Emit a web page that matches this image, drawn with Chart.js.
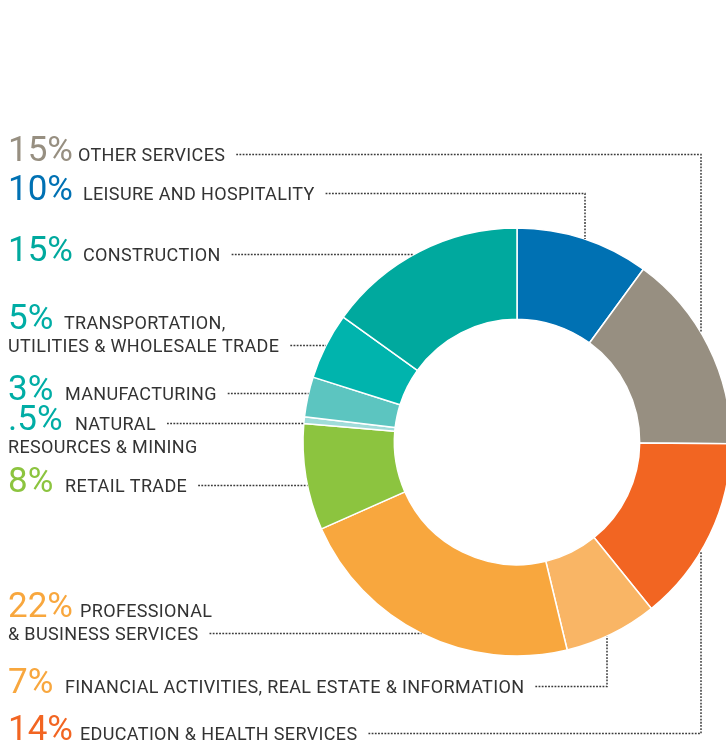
<!DOCTYPE html>
<html lang="en">
<head>
  <meta charset="utf-8" />
  <title>Employment by Sector</title>
  <style>
    html, body {
      margin: 0;
      padding: 0;
      background: #ffffff;
      overflow: hidden;
      width: 726px;
      height: 744px;
    }
    #wrap {
      position: absolute;
      left: 0;
      top: 0;
      width: 734px;
      height: 744px;
    }
  </style>
</head>
<body>
  <div id="wrap"><canvas id="sectors" width="734" height="744"></canvas></div>

  <script src="https://cdn.jsdelivr.net/npm/chart.js@4"></script>

  <script>
    // Sectors in clockwise order starting at 12 o'clock
    const sectors = [
      'LEISURE AND HOSPITALITY',
      'OTHER SERVICES',
      'EDUCATION & HEALTH SERVICES',
      'FINANCIAL ACTIVITIES, REAL ESTATE & INFORMATION',
      'PROFESSIONAL & BUSINESS SERVICES',
      'RETAIL TRADE',
      'NATURAL RESOURCES & MINING',
      'MANUFACTURING',
      'TRANSPORTATION, UTILITIES & WHOLESALE TRADE',
      'CONSTRUCTION'
    ];
    const shares = [10, 15, 14, 7, 22, 8, 0.5, 3, 5, 15];
    const sliceColors = [
      '#0071b3', '#978f81', '#f26522', '#f9b565', '#f8a73e',
      '#8cc43f', '#a0dcd9', '#5cc5c0', '#00b4ad', '#00a99e'
    ];
    const pctColors = [
      '#0071b3', '#978f81', '#f26522', '#f8a73e', '#f8a73e',
      '#8cc43f', '#00ada5', '#00ada5', '#00ada5', '#00a99e'
    ];

    // Label block layout: which sector, text lines, where it sits, how the leader runs
    // leader 'h'    -> straight across to the left edge of the ring
    // leader 'up'   -> across to elbowX, then down onto the top of the ring
    // leader 'down' -> across to elbowX, then up onto the bottom of the ring
    const labelLayout = [
      { i: 1, lines: ['OTHER SERVICES'], x: 78, y: 161, leader: 'up', elbowX: 701 },
      { i: 0, lines: ['LEISURE AND HOSPITALITY'], x: 83, y: 200, leader: 'up', elbowX: 585 },
      { i: 9, lines: ['CONSTRUCTION'], x: 83, y: 261, leader: 'h' },
      { i: 8, lines: ['TRANSPORTATION,', 'UTILITIES & WHOLESALE TRADE'], x: 64, y: 329, leader: 'h' },
      { i: 7, lines: ['MANUFACTURING'], x: 65, y: 400, leader: 'h' },
      { i: 6, lines: ['NATURAL', 'RESOURCES & MINING'], x: 75, y: 430, leader: 'h', leaderLine: 0 },
      { i: 5, lines: ['RETAIL TRADE'], x: 65, y: 492, leader: 'h' },
      { i: 4, lines: ['PROFESSIONAL', '& BUSINESS SERVICES'], x: 80, y: 617, leader: 'h' },
      { i: 3, lines: ['FINANCIAL ACTIVITIES, REAL ESTATE & INFORMATION'], x: 65, y: 693, leader: 'down', elbowX: 607 },
      { i: 2, lines: ['EDUCATION & HEALTH SERVICES'], x: 80, y: 740, leader: 'down', elbowX: 701 }
    ];

    const fmtPct = v => String(v).replace(/^0\./, '.') + '%';

    const labelsPlugin = {
      id: 'sectorLabels',
      afterDraw(chart) {
        const ctx = chart.ctx;
        const arc = chart.getDatasetMeta(0).data[0];
        const cx = arc.x, cy = arc.y, R = arc.outerRadius;

        ctx.save();
        for (const lab of labelLayout) {
          // big percentage
          ctx.letterSpacing = '0px';
          ctx.font = '400 35px Roboto';
          ctx.fillStyle = pctColors[lab.i];
          ctx.textBaseline = 'alphabetic';
          ctx.fillText(fmtPct(shares[lab.i]), 8, lab.y);

          // category name, first line next to the number, rest under it
          ctx.font = '400 18px Roboto';
          ctx.letterSpacing = '0.35px';
          ctx.fillStyle = '#333333';
          const row = lab.leaderLine !== undefined ? lab.leaderLine : lab.lines.length - 1;
          let endX = 0;
          lab.lines.forEach((t, k) => {
            const tx = k === 0 ? lab.x : 8;
            const ty = lab.y + k * 23;
            ctx.fillText(t, tx, ty);
            if (k === row) endX = tx + ctx.measureText(t).width;
          });

          // dotted leader line
          const ly = lab.y + row * 23 - 6.5;
          const sx = endX + 11;
          ctx.beginPath();
          ctx.setLineDash([1.8, 1.4]);
          ctx.lineWidth = 1.5;
          ctx.strokeStyle = '#3a3a3a';
          ctx.moveTo(sx, ly);
          if (lab.leader === 'h') {
            const ex = cx - Math.sqrt(Math.max(R * R - (ly - cy) * (ly - cy), 0));
            ctx.lineTo(ex, ly);
          } else {
            const dx = lab.elbowX - cx;
            const off = Math.sqrt(Math.max(R * R - dx * dx, 0));
            const ey = lab.leader === 'up' ? cy - off : cy + off;
            ctx.lineTo(lab.elbowX, ly);
            ctx.lineTo(lab.elbowX, ey);
          }
          ctx.stroke();
        }
        ctx.restore();
      }
    };

    new Chart(document.getElementById('sectors'), {
      type: 'doughnut',
      data: {
        labels: sectors,
        datasets: [{
          data: shares,
          backgroundColor: sliceColors,
          borderColor: '#ffffff',
          borderWidth: 1.5,
          hoverOffset: 0,
          radius: 214,
          cutout: 124
        }]
      },
      options: {
        responsive: false,
        animation: false,
        events: [],
        layout: { padding: { left: 300, right: 0, top: 160, bottom: 20 } },
        plugins: {
          legend: { display: false },
          tooltip: { enabled: false }
        }
      },
      plugins: [labelsPlugin]
    });
  </script>
</body>
</html>
